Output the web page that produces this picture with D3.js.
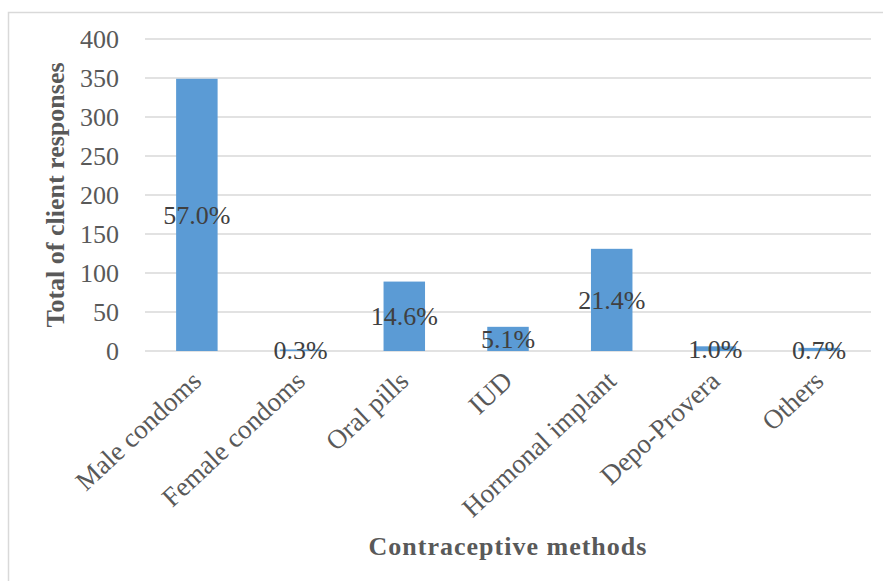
<!DOCTYPE html>
<html>
<head>
<meta charset="utf-8">
<script src="https://cdn.jsdelivr.net/npm/d3@7"></script>
<style>
  body { margin: 0; background: #fff; }
  svg { display: block; font-family: "Liberation Serif", "Times New Roman", serif; }
</style>
</head>
<body>
<svg id="chart"></svg>
<script>
// data
const methods = ["Male condoms", "Female condoms", "Oral pills", "IUD", "Hormonal implant", "Depo-Provera", "Others"];
const responses = [349, 2, 89, 31, 131, 6, 4];
const percents = ["57.0%", "0.3%", "14.6%", "5.1%", "21.4%", "1.0%", "0.7%"];
const yTicks = [0, 50, 100, 150, 200, 250, 300, 350, 400];

const width = 883, height = 581;
const margin = {top: 39, right: 12, bottom: 230, left: 145};

const svg = d3.select('#chart')
    .attr('width', width)
    .attr('height', height);

// outer border
svg.append('rect')
    .attr('x', 8.5).attr('y', 12.5)
    .attr('width', width + 10).attr('height', height + 10)
    .attr('fill', 'none')
    .attr('stroke', '#d9d9d9')
    .attr('stroke-width', 1.5);

const chart = svg.append('g')
    .attr('transform', `translate(${margin.left}, ${margin.top})`);

const innerW = width - margin.left - margin.right;
const innerH = 351 - margin.top;

const xscale = d3.scaleBand()
    .domain(methods)
    .range([0, innerW])
    .paddingInner(0.6)
    .paddingOuter(0.3);

const yscale = d3.scaleLinear()
    .domain([0, 400])
    .range([innerH, 0]);

// gridlines
chart.append('g')
    .selectAll('line')
    .data(yTicks)
    .join('line')
    .attr('x1', 0).attr('x2', innerW)
    .attr('y1', d => yscale(d)).attr('y2', d => yscale(d))
    .attr('stroke', '#d9d9d9')
    .attr('stroke-width', 1.5);

// y axis labels
const yaxis = d3.axisLeft(yscale).tickValues(yTicks).tickSize(0).tickPadding(26);
const yg = chart.append('g').call(yaxis);
yg.select('.domain').remove();
yg.selectAll('text')
    .style('font-family', '"Liberation Serif", serif')
    .style('font-size', '26px')
    .attr('fill', '#595959');

// bars
chart.append('g')
    .selectAll('rect')
    .data(methods)
    .join('rect')
    .attr('x', d => xscale(d))
    .attr('y', (d, i) => yscale(responses[i]))
    .attr('width', xscale.bandwidth())
    .attr('height', (d, i) => yscale(0) - yscale(responses[i]))
    .attr('fill', '#5b9bd5');

// data labels
chart.append('g')
    .selectAll('text')
    .data(methods)
    .join('text')
    .attr('x', d => xscale(d) + xscale.bandwidth() / 2)
    .attr('y', (d, i) => (yscale(responses[i]) + yscale(0)) / 2)
    .attr('dy', '0.35em')
    .attr('text-anchor', 'middle')
    .style('font-size', '26px')
    .attr('fill', '#404040')
    .text((d, i) => percents[i]);

// x axis category labels
const xaxis = d3.axisBottom(xscale).tickSize(0).tickPadding(0);
const xg = chart.append('g')
    .attr('transform', `translate(0, ${innerH})`)
    .call(xaxis);
xg.select('.domain').remove();
xg.selectAll('text')
    .style('font-family', '"Liberation Serif", serif')
    .style('font-size', '27px')
    .attr('fill', '#595959')
    .attr('text-anchor', 'end')
    .attr('dy', null)
    .attr('y', 0)
    .attr('transform', 'translate(6, 32) rotate(-43)');

// axis titles
svg.append('text')
    .attr('x', 508)
    .attr('y', 555)
    .attr('text-anchor', 'middle')
    .style('font-size', '26px')
    .style('font-weight', 'bold')
    .style('letter-spacing', '1px')
    .attr('fill', '#595959')
    .text('Contraceptive methods');

svg.append('text')
    .attr('transform', 'rotate(-90)')
    .attr('x', -195)
    .attr('y', 64)
    .attr('text-anchor', 'middle')
    .style('font-size', '26px')
    .style('font-weight', 'bold')
    .attr('fill', '#595959')
    .text('Total of client responses');
</script>
</body>
</html>
